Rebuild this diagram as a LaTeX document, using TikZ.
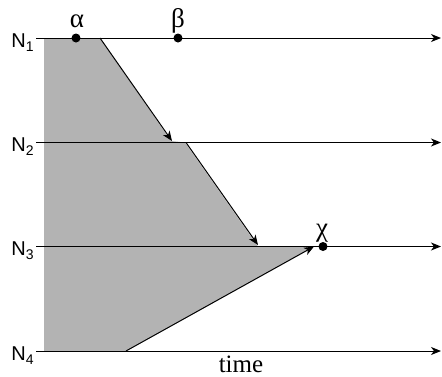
\documentclass[tikz,border=0pt]{standalone}
\usepackage{fontspec}
\setmainfont{Liberation Serif}
\newfontfamily\lsans{Liberation Sans}
\usetikzlibrary{arrows.meta}
\definecolor{shadegray}{RGB}{179,179,179}
\begin{document}
\begin{tikzpicture}[x=1pt,y=-1pt, line width=1pt,
  tipline/.style={-{Stealth[length=10pt,width=8pt,inset=3pt]}},
  dot/.style={circle,fill=black,inner sep=0pt,minimum size=9pt},
  nlab/.style={font=\lsans\fontsize{20}{20}\selectfont, anchor=base west, inner sep=0pt},
  glab/.style={font=\fontsize{27}{27}\selectfont, anchor=base, inner sep=0pt}]
\useasboundingbox (0,0) rectangle (442,376);
\fill[shadegray] (44,38) -- (100,38) -- (171,141) -- (185,142.5) -- (258,246.5) -- (314,246.5) -- (126,351) -- (44,351) -- cycle;
% timelines
\coordinate (s1) at (36,38);    \coordinate (e1) at (441,38);
\coordinate (s2) at (36,142.5); \coordinate (e2) at (441,142.5);
\coordinate (s3) at (36,246.5); \coordinate (e3) at (441,246.5);
\coordinate (s4) at (36,351);   \coordinate (e4) at (441,351);
\draw[tipline] (s1) -- (e1);
\draw[tipline] (s2) -- (e2);
\draw[tipline] (s3) -- (e3);
\draw[tipline] (s4) -- (e4);
% messages
\coordinate (m1s) at (100,38);  \coordinate (m1e) at (172,141);
\coordinate (m2s) at (186,142.5); \coordinate (m2e) at (258,245);
\coordinate (m3s) at (126,351); \coordinate (m3e) at (314,246.5);
\draw[tipline] (m1s) -- (m1e);
\draw[tipline] (m2s) -- (m2e);
\draw[tipline] (m3s) -- (m3e);
% labels
\node[nlab] (n1) at (11,47) {N\raisebox{-4pt}{\fontsize{14}{14}\selectfont 1}};
\node[nlab] (n2) at (11,151.5) {N\raisebox{-4pt}{\fontsize{14}{14}\selectfont 2}};
\node[nlab] (n3) at (11,255.5) {N\raisebox{-4pt}{\fontsize{14}{14}\selectfont 3}};
\node[nlab] (n4) at (11,360) {N\raisebox{-4pt}{\fontsize{14}{14}\selectfont 4}};
% events
\node[dot] (alpha) at (76,38) {};
\node[dot] (beta) at (178,38) {};
\node[dot] (chi) at (323,246.5) {};
\node[glab] (la) at (77,27) {α};
\node[glab] (lb) at (178,27) {β};
\node[glab] (lc) at (322,236) {χ};
\node[font=\fontsize{25}{25}\selectfont, anchor=base, inner sep=0pt] (time) at (241,372) {time};
\end{tikzpicture}
\end{document}
